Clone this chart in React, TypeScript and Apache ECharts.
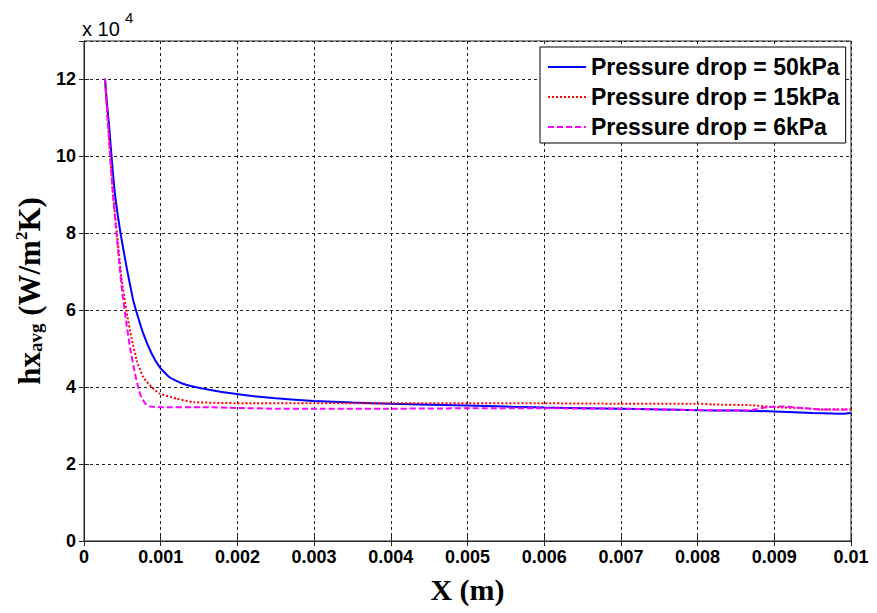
import React, { useEffect, useRef } from "react";
import * as echarts from "echarts";

// X positions (m) and hx_avg values (in units of 10^4 W/m^2K) for each pressure drop
const x50kPa = [
  0.000274, 0.000289, 0.00033, 0.000361, 0.000404, 0.000478, 0.000557, 0.000635,
  0.000681, 0.000773, 0.000883, 0.000991, 0.00112, 0.00129, 0.00156, 0.00199, 0.0025,
  0.003, 0.0035, 0.004, 0.005, 0.006, 0.007, 0.0075, 0.008, 0.0085, 0.009, 0.0095,
  0.0099, 0.01,
];
const y50kPa = [
  12.02, 11.61, 10.73, 9.95, 9.02, 7.98, 7.1, 6.32, 5.98, 5.39, 4.87, 4.51, 4.25, 4.09,
  3.96, 3.82, 3.71, 3.64, 3.6, 3.57, 3.52, 3.47, 3.44, 3.42, 3.4, 3.39, 3.37, 3.33,
  3.31, 3.33,
];

const x15kPa = [
  0.000274, 0.000287, 0.000317, 0.000343, 0.000378, 0.00043, 0.000489, 0.000554,
  0.000622, 0.000687, 0.000773, 0.000883, 0.00099, 0.00121, 0.00143, 0.00216, 0.003,
  0.004, 0.005, 0.006, 0.007, 0.008, 0.0082, 0.0087, 0.009, 0.0094, 0.0096, 0.01,
];
const y15kPa = [
  12.02, 11.61, 10.73, 9.95, 9.02, 7.98, 6.84, 5.96, 5.26, 4.69, 4.26, 4.0, 3.83, 3.7,
  3.61, 3.58, 3.58, 3.58, 3.58, 3.58, 3.57, 3.57, 3.55, 3.53, 3.48, 3.45, 3.42, 3.42,
];

const x6kPa = [
  0.000274, 0.000287, 0.000317, 0.000343, 0.000378, 0.000424, 0.000463, 0.000502,
  0.000548, 0.0006, 0.000665, 0.00073, 0.000795, 0.00086, 0.00099, 0.00155, 0.002,
  0.0025, 0.003, 0.004, 0.005, 0.006, 0.007, 0.0075, 0.0085, 0.0087, 0.0089, 0.0091,
  0.0094, 0.0096, 0.01,
];
const y6kPa = [
  12.02, 11.61, 10.73, 9.95, 9.02, 7.98, 7.15, 6.42, 5.73, 5.03, 4.35, 3.83, 3.58, 3.5,
  3.48, 3.48, 3.46, 3.44, 3.44, 3.44, 3.45, 3.45, 3.44, 3.42, 3.39, 3.4, 3.48, 3.5,
  3.45, 3.42, 3.42,
];

const seriesNames = [
  "Pressure drop = 50kPa",
  "Pressure drop = 15kPa",
  "Pressure drop = 6kPa",
];

const pair = (xs: number[], ys: number[]) => xs.map((x, i) => [x, ys[i]]);

export default function App() {
  const ref = useRef<HTMLDivElement>(null);

  useEffect(() => {
    if (!ref.current) return;
    const chart = echarts.init(ref.current, undefined, { renderer: "svg" });
    const sans = "'Liberation Sans', Arial, sans-serif";
    const serif = "'Liberation Serif', 'Times New Roman', serif";
    const tickFont = {
      fontFamily: sans,
      fontWeight: "bold" as const,
      fontSize: 18,
      color: "#000",
    };
    const gridLine = { show: true, lineStyle: { color: "#222", type: [3, 3] as any, width: 1 } };
    const lineCommon = {
      type: "line" as const,
      showSymbol: false,
      symbol: "none",
      smooth: 0.15,
    };
    chart.setOption({
      animation: false,
      backgroundColor: "#fff",
      title: [
        {
          text: "x 10",
          left: 82,
          top: 19,
          padding: 0,
          textStyle: { fontFamily: sans, fontWeight: "normal", fontSize: 20, lineHeight: 20, color: "#000" },
        },
        {
          text: "4",
          left: 125,
          top: 10,
          padding: 0,
          textStyle: { fontFamily: sans, fontWeight: "normal", fontSize: 15, lineHeight: 15, color: "#000" },
        },
      ],
      grid: {
        left: 84,
        top: 41,
        width: 767,
        height: 500,
        show: true,
        borderColor: "#222",
        borderWidth: 1,
        backgroundColor: "transparent",
      },
      legend: {
        left: 540,
        top: 47,
        orient: "vertical",
        data: seriesNames,
        backgroundColor: "#fff",
        borderColor: "#000",
        borderWidth: 1,
        borderRadius: 0,
        padding: [8, 6, 4, 7],
        itemGap: 6,
        itemWidth: 38,
        itemHeight: 14,
        selectedMode: false,
        itemStyle: { opacity: 0 },
        textStyle: {
          fontFamily: sans,
          fontWeight: "bold",
          fontSize: 23,
          lineHeight: 24,
          color: "#000",
        },
      },
      xAxis: [
        {
          type: "value",
          min: 0,
          max: 0.01,
          interval: 0.001,
          name: "X (m)",
          nameLocation: "middle",
          nameGap: 33,
          nameTextStyle: {
            fontFamily: serif,
            fontWeight: "bold",
            fontSize: 30,
            color: "#000",
          },
          axisLine: { show: true, lineStyle: { color: "#222" } },
          axisTick: { show: true, inside: true, length: 5, lineStyle: { color: "#222" } },
          axisLabel: {
            ...tickFont,
            margin: 7,
            formatter: (v: number) => String(parseFloat(v.toFixed(4))),
          },
          splitLine: gridLine,
        },
        {
          type: "value",
          position: "top",
          min: 0,
          max: 0.01,
          interval: 0.001,
          axisLine: { show: true, lineStyle: { color: "#222" } },
          axisTick: { show: true, inside: true, length: 5, lineStyle: { color: "#222" } },
          axisLabel: { show: false },
          splitLine: { show: false },
        },
      ],
      yAxis: [
        {
          type: "value",
          min: 0,
          max: 13,
          interval: 2,
          name: "{m|hx}{s|avg}{m| (W/m}{p|2}{m|K)}",
          nameLocation: "middle",
          nameRotate: 90,
          nameGap: 36,
          nameTextStyle: {
            color: "#000",
            rich: {
              m: {
                fontFamily: serif,
                fontWeight: "bold",
                fontSize: 31,
                lineHeight: 32,
                verticalAlign: "middle",
                color: "#000",
              },
              s: {
                fontFamily: serif,
                fontWeight: "bold",
                fontSize: 19,
                lineHeight: 20,
                verticalAlign: "bottom",
                color: "#000",
              },
              p: {
                fontFamily: serif,
                fontWeight: "bold",
                fontSize: 17,
                lineHeight: 18,
                verticalAlign: "top",
                color: "#000",
              },
            },
          },
          axisLine: { show: true, lineStyle: { color: "#222" } },
          axisTick: { show: true, inside: true, length: 5, lineStyle: { color: "#222" } },
          axisLabel: { ...tickFont, margin: 8, showMaxLabel: false },
          splitLine: gridLine,
        },
        {
          type: "value",
          position: "right",
          min: 0,
          max: 13,
          interval: 2,
          axisLine: { show: true, lineStyle: { color: "#222" } },
          axisTick: { show: true, inside: true, length: 5, lineStyle: { color: "#222" } },
          axisLabel: { show: false },
          splitLine: { show: false },
        },
      ],
      series: [
        {
          ...lineCommon,
          name: seriesNames[0],
          data: pair(x50kPa, y50kPa),
          lineStyle: { color: "#0000ff", width: 2, type: "solid" },
          itemStyle: { color: "#0000ff" },
          z: 3,
        },
        {
          ...lineCommon,
          name: seriesNames[1],
          data: pair(x15kPa, y15kPa),
          lineStyle: { color: "#ff0000", width: 2, type: [2, 2] },
          itemStyle: { color: "#ff0000" },
          z: 4,
        },
        {
          ...lineCommon,
          name: seriesNames[2],
          data: pair(x6kPa, y6kPa),
          lineStyle: { color: "#ff00ff", width: 2, type: [6, 3] },
          itemStyle: { color: "#ff00ff" },
          z: 5,
        },
      ],
    });
    return () => chart.dispose();
  }, []);

  return (
    <div
      ref={ref}
      style={{ position: "fixed", left: 0, top: 0, width: 877, height: 613, background: "#fff" }}
    />
  );
}
